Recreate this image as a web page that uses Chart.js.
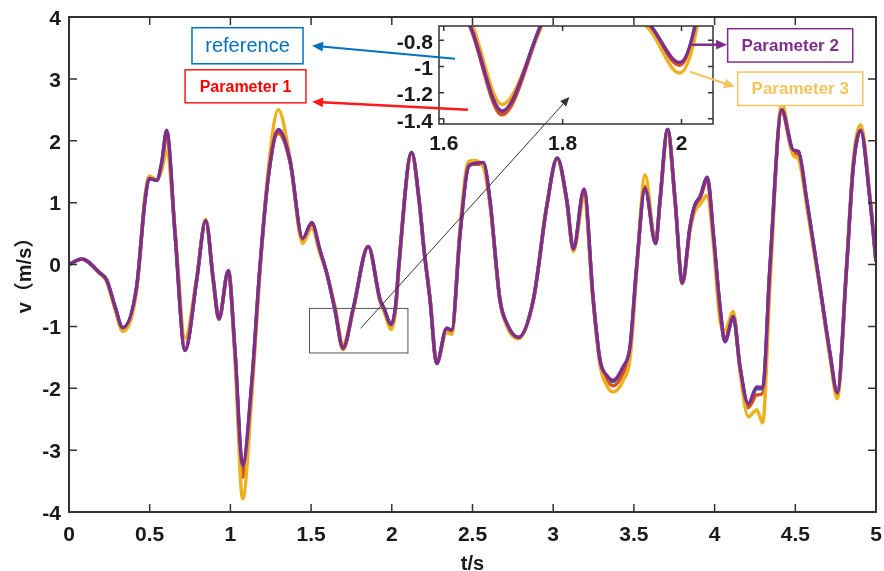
<!DOCTYPE html>
<html>
<head>
<meta charset="utf-8">
<title>v(t)</title>
<script src="https://cdn.jsdelivr.net/npm/chart.js@4.4.1/dist/chart.umd.min.js"></script>
<style>
    html, body { margin: 0; padding: 0; background: #fff; }
    #wrap { position: relative; width: 884px; height: 571px; }
    #wrap canvas { position: absolute; left: 0; top: 0; }
    #zoomChart { pointer-events: none; }
</style>
</head>
<body>
<div id="wrap">
    <canvas id="mainChart" width="884" height="571"></canvas>
    <canvas id="zoomChart" width="884" height="571"></canvas>
</div>
<script>
// Sample times (s)
const timeS = [
    0.000, 0.079, 0.192, 0.233, 0.285, 0.333, 0.419, 0.471, 0.498, 0.543,
    0.574, 0.605, 0.657, 0.719, 0.791, 0.847, 0.894, 0.929, 0.987, 1.028,
    1.076, 1.132, 1.183, 1.235, 1.297, 1.369, 1.448, 1.504, 1.555, 1.597,
    1.648, 1.698, 1.762, 1.854, 1.927, 1.950, 1.997, 2.025, 2.043, 2.123, 2.169,
    2.200, 2.237, 2.278, 2.340, 2.371, 2.423, 2.474, 2.505, 2.567, 2.608,
    2.670, 2.712, 2.784, 2.877, 2.960, 3.025, 3.084, 3.125, 3.191, 3.248,
    3.290, 3.331, 3.372, 3.434, 3.476, 3.517, 3.569, 3.635, 3.662, 3.709,
    3.755, 3.800, 3.848, 3.878, 3.910, 3.955, 3.992, 4.033, 4.064, 4.116,
    4.157, 4.209, 4.261, 4.298, 4.343, 4.416, 4.488, 4.519, 4.571, 4.653,
    4.715, 4.760, 4.818, 4.859, 4.905, 4.963, 5.000
];

// Velocity (m/s) for each run
const reference = [
    0.00, 0.09, -0.14, -0.25, -0.68, -1.03, -0.37, 1.04, 1.39, 1.36,
    1.63, 2.15, 0.50, -1.39, -0.25, 0.71, -0.25, -0.88, -0.10, -1.39,
    -3.30, -1.94, -0.05, 1.42, 2.16, 1.68, 0.41, 0.66, 0.22, -0.14,
    -0.73, -1.35, -0.70, 0.29, -0.57, -0.70, -0.98, -0.64, -0.04, 1.81, 1.04,
    0.23, -0.57, -1.60, -1.03, -1.06, 0.50, 1.58, 1.62, 1.64, 1.03,
    -0.57, -0.95, -1.18, -0.57, 0.94, 1.72, 1.04, 0.25, 1.20, -0.57,
    -1.55, -1.81, -1.89, -1.67, -1.35, -0.04, 1.24, 0.34, 1.04, 2.18,
    1.04, -0.30, 0.61, 0.96, 1.09, 1.40, 0.50, -0.68, -1.24, -0.84,
    -1.65, -2.27, -2.01, -2.01, -0.05, 2.50, 1.84, 1.82, 1.03, -0.36,
    -1.44, -2.07, -0.04, 1.58, 2.17, 1.04, 0.05
];
const parameter1 = [
    0.00, 0.09, -0.14, -0.25, -0.69, -1.04, -0.38, 1.05, 1.40, 1.36,
    1.60, 2.07, 0.50, -1.37, -0.25, 0.71, -0.25, -0.88, -0.10, -1.41,
    -3.44, -1.98, -0.06, 1.42, 2.12, 1.66, 0.40, 0.64, 0.21, -0.14,
    -0.74, -1.37, -0.71, 0.29, -0.57, -0.71, -0.99, -0.65, -0.04, 1.80, 1.04,
    0.23, -0.57, -1.60, -1.04, -1.08, 0.51, 1.59, 1.62, 1.62, 1.01,
    -0.58, -0.97, -1.18, -0.57, 0.94, 1.71, 1.03, 0.24, 1.15, -0.58,
    -1.57, -1.85, -1.96, -1.75, -1.41, -0.05, 1.26, 0.34, 1.04, 2.17,
    1.04, -0.30, 0.60, 0.94, 1.07, 1.37, 0.48, -0.70, -1.22, -0.82,
    -1.66, -2.31, -2.11, -2.08, -0.07, 2.47, 1.80, 1.78, 1.00, -0.38,
    -1.46, -2.10, -0.04, 1.58, 2.16, 1.04, 0.05
];
const parameter2 = [
    0.00, 0.09, -0.14, -0.25, -0.68, -1.02, -0.36, 1.04, 1.39, 1.36,
    1.64, 2.17, 0.50, -1.39, -0.25, 0.71, -0.25, -0.88, -0.10, -1.38,
    -3.24, -1.92, -0.04, 1.42, 2.18, 1.69, 0.42, 0.68, 0.23, -0.14,
    -0.73, -1.34, -0.70, 0.29, -0.57, -0.70, -0.97, -0.64, -0.04, 1.81, 1.04,
    0.23, -0.57, -1.60, -1.03, -1.06, 0.50, 1.58, 1.63, 1.65, 1.04,
    -0.57, -0.95, -1.18, -0.57, 0.94, 1.72, 1.04, 0.25, 1.22, -0.57,
    -1.55, -1.79, -1.87, -1.65, -1.33, -0.04, 1.23, 0.34, 1.04, 2.18,
    1.04, -0.30, 0.61, 0.96, 1.10, 1.41, 0.50, -0.68, -1.25, -0.84,
    -1.65, -2.25, -1.98, -1.99, -0.04, 2.50, 1.85, 1.83, 1.04, -0.36,
    -1.44, -2.07, -0.04, 1.58, 2.17, 1.04, 0.05
];
const parameter3 = [
    0.00, 0.09, -0.15, -0.27, -0.72, -1.08, -0.42, 1.10, 1.43, 1.37,
    1.52, 1.83, 0.55, -1.19, -0.22, 0.73, -0.27, -0.88, -0.10, -1.50,
    -3.79, -2.15, -0.12, 1.55, 2.50, 1.72, 0.34, 0.59, 0.18, -0.14,
    -0.68, -1.29, -0.72, 0.29, -0.60, -0.74, -1.05, -0.72, -0.08, 1.79, 1.04,
    0.25, -0.55, -1.59, -1.10, -1.13, 0.60, 1.66, 1.68, 1.58, 0.97,
    -0.56, -0.99, -1.20, -0.58, 0.95, 1.71, 1.00, 0.21, 1.06, -0.60,
    -1.62, -1.95, -2.06, -1.87, -1.52, -0.12, 1.45, 0.35, 1.04, 2.12,
    1.04, -0.31, 0.55, 0.86, 0.97, 1.12, 0.35, -0.90, -1.06, -0.76,
    -1.72, -2.46, -2.35, -2.56, -0.35, 2.60, 1.76, 1.71, 0.95, -0.40,
    -1.50, -2.17, -0.02, 1.66, 2.26, 1.10, 0.05
];

// Tick values of the magnified view
const zoomXTicks = [1.6, 1.8, 2];
const zoomYTicks = [-1.4, -1.2, -1, -0.8];

const FONT = '"Liberation Sans", Arial, "Noto Sans CJK SC", sans-serif';
const AXIS_COLOR = '#333';
const TEXT_COLOR = '#1a1a1a';
const TICK_FONT = { family: FONT, size: 21, weight: 'bold' };
const tickText = v => String(Math.round(v * 100) / 100);

// later entries sit underneath (higher order is drawn first)
const seriesDefs = [
    { label: 'Parameter 2', values: parameter2, color: '#7E2F8E', order: 0 },
    { label: 'Parameter 3', values: parameter3, color: '#EDB120', order: 1 },
    { label: 'Parameter 1', values: parameter1, color: '#D95319', order: 2 },
    { label: 'reference', values: reference, color: '#0072BD', order: 3 }
];

function makeDatasets(width) {
    return seriesDefs.map(s => ({
        label: s.label,
        data: timeS.map((t, i) => ({ x: t, y: s.values[i] })),
        borderColor: s.color,
        backgroundColor: s.color,
        borderWidth: width,
        pointRadius: 0,
        cubicInterpolationMode: 'monotone',
        fill: false,
        order: s.order
    }));
}

// keep the plot box exactly where the layout padding puts it
function fixX(height) {
    return s => { s.height = height; s.paddingLeft = 0; s.paddingRight = 0; };
}
function fixY(width) {
    return s => { s.width = width; s.paddingTop = 0; s.paddingBottom = 0; };
}

// Region shown in the magnified view, in main-axis units
const zoomWindow = { t0: 1.49, t1: 2.10, v0: -1.43, v1: -0.71 };

// Callout boxes and arrows, in main-axis units (t, v)
const callouts = [
    { text: 'reference', color: '#0072BD', textColor: '#0072BD', font: '20px ' + FONT,
      box: [0.762, 3.827, 1.450, 3.244], from: [2.392, 3.325], to: [1.506, 3.536], lw: 2 },
    { text: 'Parameter 1', color: '#FF1A1A', textColor: '#FF0000', font: 'bold 16px ' + FONT,
      box: [0.719, 3.147, 1.468, 2.613], from: [2.472, 2.500], to: [1.506, 2.629], lw: 2.5 },
    { text: 'Parameter 2', color: '#7E2F8E', textColor: '#7E2F8E', font: 'bold 17px ' + FONT,
      box: [4.081, 3.811, 4.856, 3.272], from: [3.860, 3.552], to: [4.077, 3.552], lw: 2.5 },
    { text: 'Parameter 3', color: '#F2C55E', textColor: '#F2C55E', font: 'bold 17px ' + FONT,
      box: [4.143, 3.110, 4.918, 2.570], from: [3.848, 3.115], to: [4.126, 2.872], lw: 2 }
];
const zoomArrow = { from: [1.807, -1.032], to: [3.100, 2.706] };

function drawArrow(ctx, x1, y1, x2, y2, color, width, head) {
    const ang = Math.atan2(y2 - y1, x2 - x1);
    ctx.save();
    ctx.strokeStyle = color;
    ctx.fillStyle = color;
    ctx.lineWidth = width;
    ctx.beginPath();
    ctx.moveTo(x1, y1);
    ctx.lineTo(x2 - Math.cos(ang) * head * 0.8, y2 - Math.sin(ang) * head * 0.8);
    ctx.stroke();
    ctx.beginPath();
    ctx.moveTo(x2, y2);
    ctx.lineTo(x2 - head * Math.cos(ang - 0.42), y2 - head * Math.sin(ang - 0.42));
    ctx.lineTo(x2 - head * Math.cos(ang + 0.42), y2 - head * Math.sin(ang + 0.42));
    ctx.closePath();
    ctx.fill();
    ctx.restore();
}

// Box around the plot area with inward ticks (all four sides)
function drawFrame(chart, tickLen, lineWidth) {
    const { ctx, chartArea: a, scales: { x, y } } = chart;
    ctx.save();
    ctx.strokeStyle = AXIS_COLOR;
    ctx.lineWidth = lineWidth;
    ctx.strokeRect(a.left, a.top, a.right - a.left, a.bottom - a.top);
    ctx.lineWidth = 1.5;
    ctx.beginPath();
    x.ticks.forEach(t => {
        const px = x.getPixelForValue(t.value);
        ctx.moveTo(px, a.bottom); ctx.lineTo(px, a.bottom - tickLen);
        ctx.moveTo(px, a.top); ctx.lineTo(px, a.top + tickLen);
    });
    y.ticks.forEach(t => {
        const py = y.getPixelForValue(t.value);
        ctx.moveTo(a.left, py); ctx.lineTo(a.left + tickLen, py);
        ctx.moveTo(a.right, py); ctx.lineTo(a.right - tickLen, py);
    });
    ctx.stroke();
    ctx.restore();
}

const mainDecor = {
    id: 'mainDecor',
    afterDraw(chart) {
        const { ctx, chartArea: a, scales: { x, y } } = chart;
        drawFrame(chart, 8, 2);

        // outline of the magnified region
        ctx.save();
        ctx.strokeStyle = '#555';
        ctx.lineWidth = 1;
        const rx = x.getPixelForValue(zoomWindow.t0), ry = y.getPixelForValue(zoomWindow.v1);
        ctx.strokeRect(rx, ry, x.getPixelForValue(zoomWindow.t1) - rx, y.getPixelForValue(zoomWindow.v0) - ry);

        // axis titles
        ctx.fillStyle = TEXT_COLOR;
        ctx.font = 'bold 20px ' + FONT;
        ctx.textAlign = 'center';
        ctx.textBaseline = 'middle';
        ctx.fillText('t/s', (a.left + a.right) / 2, a.bottom + 52);
        ctx.translate(a.left - 44, (a.top + a.bottom) / 2 + 6);
        ctx.rotate(-Math.PI / 2);
        ctx.fillText('v（m/s）', 0, 0);
        ctx.restore();
    }
};

const mainChart = new Chart(document.getElementById('mainChart'), {
    type: 'line',
    data: { datasets: makeDatasets(3.5) },
    options: {
        responsive: false,
        animation: false,
        devicePixelRatio: 1,
        events: [],
        layout: { padding: { left: 0, top: 17, right: 8, bottom: 0 } },
        plugins: { legend: { display: false }, tooltip: { enabled: false } },
        scales: {
            x: {
                type: 'linear', min: 0, max: 5,
                afterFit: fixX(59),
                grid: { display: false, drawTicks: false },
                border: { display: false },
                ticks: { stepSize: 0.5, maxRotation: 0, autoSkip: false, padding: 11, callback: tickText,
                         color: TEXT_COLOR, font: TICK_FONT }
            },
            y: {
                type: 'linear', min: -4, max: 4,
                afterFit: fixY(69),
                grid: { display: false, drawTicks: false },
                border: { display: false },
                ticks: { stepSize: 1, padding: 8, labelOffset: 2, callback: tickText,
                         color: TEXT_COLOR, font: TICK_FONT }
            }
        }
    },
    plugins: [mainDecor]
});

const zoomDecor = {
    id: 'zoomDecor',
    beforeDraw(chart) {
        const { ctx, chartArea: a } = chart;
        ctx.save();
        ctx.fillStyle = '#fff';
        ctx.fillRect(a.left, a.top, a.right - a.left, a.bottom - a.top);
        ctx.restore();
    },
    afterDraw(chart) {
        const ctx = chart.ctx;
        drawFrame(chart, 5, 1.5);

        // callouts are placed with the main axes
        const mx = mainChart.scales.x, my = mainChart.scales.y;
        const P = (p) => [mx.getPixelForValue(p[0]), my.getPixelForValue(p[1])];

        const z0 = P(zoomArrow.from), z1 = P(zoomArrow.to);
        drawArrow(ctx, z0[0], z0[1], z1[0], z1[1], '#333', 1, 10);

        callouts.forEach(c => {
            const [bx0, by0] = P([c.box[0], c.box[1]]);
            const [bx1, by1] = P([c.box[2], c.box[3]]);
            ctx.save();
            ctx.fillStyle = '#fff';
            ctx.fillRect(bx0, by0, bx1 - bx0, by1 - by0);
            ctx.strokeStyle = c.color;
            ctx.lineWidth = 1.5;
            ctx.strokeRect(bx0, by0, bx1 - bx0, by1 - by0);
            ctx.fillStyle = c.textColor;
            ctx.font = c.font;
            ctx.textAlign = 'center';
            ctx.textBaseline = 'middle';
            ctx.fillText(c.text, (bx0 + bx1) / 2, (by0 + by1) / 2 + 1);
            ctx.restore();
            const f = P(c.from), t = P(c.to);
            drawArrow(ctx, f[0], f[1], t[0], t[1], c.color, c.lw, 12);
        });
    }
};

const zoomChart = new Chart(document.getElementById('zoomChart'), {
    type: 'line',
    data: { datasets: makeDatasets(3.5) },
    options: {
        responsive: false,
        animation: false,
        devicePixelRatio: 1,
        events: [],
        layout: { padding: { left: 389, top: 26, right: 171, bottom: 407 } },
        plugins: { legend: { display: false }, tooltip: { enabled: false } },
        scales: {
            x: {
                type: 'linear', min: 1.592, max: 2.053,
                afterBuildTicks: s => { s.ticks = zoomXTicks.map(v => ({ value: v })); },
                afterFit: fixX(40),
                grid: { display: false, drawTicks: false },
                border: { display: false },
                ticks: { maxRotation: 0, autoSkip: false, padding: 8, callback: tickText,
                         color: TEXT_COLOR, font: TICK_FONT }
            },
            y: {
                type: 'linear', min: -1.44, max: -0.69,
                afterBuildTicks: s => { s.ticks = zoomYTicks.map(v => ({ value: v })); },
                afterFit: fixY(50),
                grid: { display: false, drawTicks: false },
                border: { display: false },
                ticks: { padding: 6, labelOffset: 3, callback: tickText,
                         color: TEXT_COLOR, font: TICK_FONT }
            }
        }
    },
    plugins: [zoomDecor]
});
</script>
</body>
</html>
